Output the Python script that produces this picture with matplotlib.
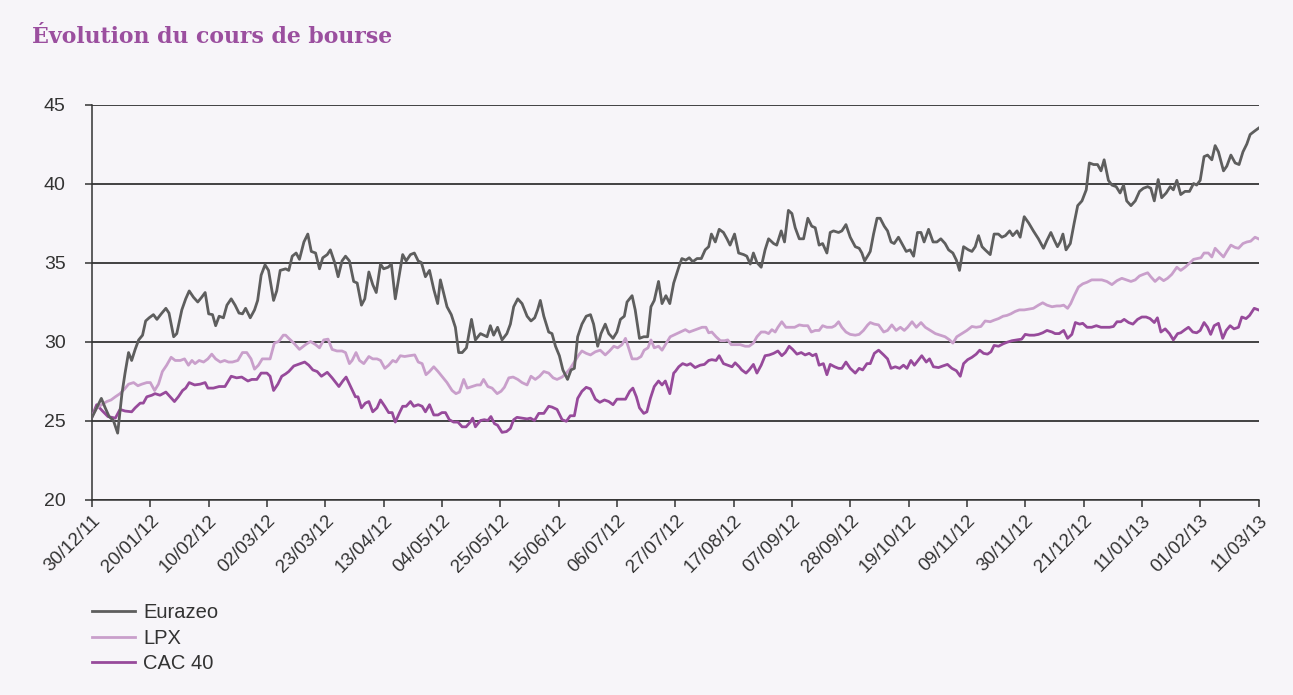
import matplotlib
matplotlib.use("Agg")
import matplotlib.pyplot as plt

# ---------------- data ----------------
tick_labels = ["30/12/11", "20/01/12", "10/02/12", "02/03/12", "23/03/12", "13/04/12",
               "04/05/12", "25/05/12", "15/06/12", "06/07/12", "27/07/12", "17/08/12",
               "07/09/12", "28/09/12", "19/10/12", "09/11/12", "30/11/12", "21/12/12",
               "11/01/13", "01/02/13", "11/03/13"]
tick_step = 15  # trading days between labelled dates

series_names = ["Eurazeo", "LPX", "CAC 40"]

eurazeo_day = [0.0, 1.2, 2.4, 3.4, 4.4, 5.5, 6.6, 7.7, 8.5, 9.4, 10.2, 11.1, 12.0, 13.0, 13.8, 14.7,
               15.8, 16.7, 17.8, 19.0, 19.8, 21.0, 21.8, 23.1, 24.1, 25.0, 26.1, 27.2, 28.2, 29.1,
               30.0, 31.0, 31.8, 32.7, 33.8, 34.7, 35.8, 36.8, 37.8, 38.7, 39.5, 40.7, 41.8, 42.6,
               43.5, 44.5, 45.4, 46.7, 47.5, 48.4,
               49.8, 50.6, 51.5, 52.5, 53.35, 54.5, 55.5, 56.4, 57.5, 58.5, 59.35, 60.5, 61.3, 62.4,
               63.3, 64.3, 65.2, 66.2, 67.3, 68.2, 69.3, 70.15, 71.2, 72.2, 73.1, 74.2, 75.0, 76.15,
               77.0, 78.0, 79.1, 79.9, 80.8, 81.9, 82.9, 83.9, 84.7, 85.75, 86.8, 87.9, 88.9, 89.6,
               90.5, 91.3, 92.4, 93.45, 94.3, 95.2, 96.3, 97.6, 98.6,
               99.9, 101.6, 102.45, 103.3, 104.3, 105.45, 106.7, 107.6, 108.45, 109.5, 110.6, 111.9,
               112.9, 113.85, 114.6, 115.3, 116.2, 117.45, 118.3, 119.2, 120.2, 121.1, 122.3, 123.2,
               124.05, 124.9, 126.0, 127.1, 128.2, 129.0, 130.05, 130.9, 132.0, 132.9, 134.0, 135.0,
               135.9, 136.9, 137.6, 138.9, 139.7, 140.8, 141.9, 142.9, 143.75, 144.6, 145.7, 146.6,
               147.6, 148.6, 149.6,
               150.9, 151.7, 152.7, 153.6, 154.5, 155.6, 156.7, 157.7, 158.6, 159.3, 160.3, 161.3,
               162.4, 163.3, 164.1, 165.25, 166.3, 167.6, 168.4, 169.3, 170.1, 171.0, 172.1, 173.1,
               174.0, 175.3, 176.1, 177.25, 178.1, 179.1, 180.0, 180.85, 181.9, 183.0, 184.1, 185.1,
               186.0, 187.0, 187.9, 189.0, 189.85, 190.7, 192.0, 192.85, 193.9, 195.0, 196.3, 197.3,
               198.0, 198.7, 199.7,
               200.15, 201.0, 201.9, 202.7, 203.75, 204.6, 205.5, 206.3, 207.4, 208.3, 209.4, 210.4,
               211.3, 212.3, 213.2, 214.0, 215.15, 216.3, 217.3, 218.3, 219.4, 220.3, 221.4, 222.3,
               223.1, 224.15, 225.4, 226.3, 227.15, 228.0, 228.9, 229.7, 231.0, 232.0, 233.1, 234.0,
               234.9, 236.0, 236.8, 237.9, 238.7, 239.75, 240.9, 242.1, 243.4, 244.7, 245.6, 246.6,
               247.5, 248.3,
               249.0, 249.7, 250.5, 251.6, 252.6, 253.5, 254.6, 255.7, 256.5, 257.6, 258.6, 259.5,
               260.3, 261.4, 262.3, 263.4, 264.4, 265.3, 266.1, 267.2, 268.3, 269.4, 270.4, 271.5,
               272.3, 273.2, 274.2, 275.1, 276.25, 277.3, 278.1, 279.0, 280.0, 281.1, 282.25, 283.3,
               284.1, 285.0, 286.0, 286.9, 288.0, 288.85, 289.7, 291.0, 291.85, 292.9, 294.0, 295.0,
               296.0, 297.0, 297.85, 298.9, 300.0]
eurazeo_val = [25.2, 25.8, 26.4, 25.8, 25.25, 25.0, 24.2, 26.7, 28.0, 29.3, 28.8, 29.5, 30.1, 30.4, 31.3, 31.5,
               31.7, 31.4, 31.75, 32.1, 31.8, 30.3, 30.5, 32.0, 32.7, 33.2, 32.8, 32.5, 32.8, 33.1,
               31.75, 31.7, 31.0, 31.6, 31.5, 32.3, 32.7, 32.3, 31.8, 31.75, 32.1, 31.5, 32.0, 32.6,
               34.2, 34.85, 34.5, 32.6, 33.2, 34.5,
               34.6, 34.5, 35.4, 35.6, 35.2, 36.3, 36.8, 35.7, 35.6, 34.6, 35.3, 35.5, 35.8, 35.0,
               34.1, 35.1, 35.4, 35.1, 33.8, 33.7, 32.3, 32.7, 34.4, 33.6, 33.1, 34.9, 34.6, 34.7,
               34.9, 32.7, 34.3, 35.5, 35.1, 35.5, 35.6, 35.1, 35.0, 34.1, 34.5, 33.3, 32.4, 33.9,
               33.0, 32.2, 31.7, 30.9, 29.3, 29.3, 29.6, 31.4, 30.1,
               30.5, 30.3, 31.0, 30.4, 30.9, 30.1, 30.5, 31.1, 32.2, 32.7, 32.4, 31.6,
               31.3, 31.5, 32.0, 32.6, 31.6, 30.6, 30.5, 29.7, 29.1, 28.2, 27.6, 28.2,
               28.3, 30.3, 31.1, 31.6, 31.7, 31.1, 29.7, 30.5, 31.1, 30.5, 30.2, 30.6,
               31.4, 31.6, 32.5, 32.9, 32.0, 30.2, 30.3, 30.3, 32.2, 32.6, 33.8, 32.4,
               32.9, 32.4, 33.7,
               34.7, 35.25, 35.15, 35.3, 35.05, 35.25, 35.25, 35.8, 36.0, 36.8, 36.3, 37.1,
               36.9, 36.5, 36.1, 36.8, 35.6, 35.5, 35.4, 34.9, 35.6, 35.0, 34.7, 35.8,
               36.5, 36.2, 36.1, 37.0, 36.3, 38.3, 38.1, 37.2, 36.5, 36.5, 37.8, 37.3,
               37.2, 36.1, 36.2, 35.6, 36.9, 37.0, 36.9, 37.0, 37.4, 36.6, 36.0, 35.9,
               35.6, 35.1, 35.5,
               35.7, 36.8, 37.8, 37.8, 37.3, 37.0, 36.3, 36.2, 36.6, 36.2, 35.7, 35.8,
               35.4, 36.9, 36.9, 36.3, 37.1, 36.3, 36.3, 36.5, 36.2, 35.8, 35.6, 35.15,
               34.5, 36.0, 35.8, 35.7, 36.0, 36.7, 36.0, 35.8, 35.5, 36.8, 36.8, 36.6,
               36.7, 37.0, 36.7, 37.0, 36.6, 37.9, 37.5, 37.0, 36.5, 35.9, 36.4, 36.9,
               36.4, 36.0,
               36.3, 36.8, 35.8, 36.2, 37.5, 38.6, 38.9, 39.6, 41.3, 41.2, 41.2, 40.8,
               41.5, 40.2, 39.9, 39.8, 39.4, 39.9, 38.9, 38.6, 38.9, 39.5, 39.7, 39.8,
               39.7, 38.9, 40.25, 39.1, 39.4, 39.8, 39.6, 40.2, 39.3, 39.5, 39.5, 40.0,
               39.9, 40.2, 41.7, 41.8, 41.5, 42.4, 42.0, 40.8, 41.1, 41.8, 41.3, 41.2,
               42.0, 42.5, 43.1, 43.3, 43.5]

lpx_day = [0.0, 1.2, 2.5, 3.8, 4.9, 6.0, 7.2, 8.4, 9.4, 10.7, 11.8, 12.8, 14.1, 15.0, 16.1, 17.1,
           18.1, 19.2, 20.35, 21.4, 22.7, 23.8, 24.8, 25.7, 26.5, 27.55, 28.7, 29.8, 30.8, 31.8,
           33.0, 34.1, 35.1, 36.1, 37.5, 38.7, 39.8, 40.9, 41.8, 42.8, 43.8, 45.0, 45.8, 46.9,
           48.0, 49.2,
           49.8, 50.6, 51.9, 53.35, 54.9, 56.2, 57.5, 58.5, 59.6, 60.7, 61.75, 63.0, 64.3, 65.2,
           66.2, 66.9, 67.9, 68.8, 69.9, 71.2, 72.2, 73.3, 74.2, 75.3, 76.3, 77.35, 78.2, 79.3,
           80.4, 81.6, 83.0, 83.9, 84.9, 85.9, 86.8, 87.9, 89.0, 90.0, 91.3, 92.6, 93.6, 94.5,
           95.6, 96.5, 97.75, 99.0,
           99.9, 100.7, 101.8, 102.9, 104.2, 105.2, 106.05, 107.2, 108.3, 109.5, 110.6, 111.9,
           112.9, 114.0, 115.1, 116.2, 117.45, 118.6, 119.6, 120.9, 122.0, 123.0, 124.05, 125.2,
           126.0, 127.1, 128.2, 129.45, 130.7, 132.0, 133.1, 134.2, 135.2, 136.3, 137.2, 138.0,
           138.9, 140.2, 141.2, 142.0, 143.0, 143.75, 144.6, 145.7, 146.6, 147.7, 148.7,
           150.0, 151.3, 152.6, 153.6, 154.7, 155.8, 156.9, 157.9, 158.6, 159.4, 160.5, 161.6,
           162.7, 163.5, 164.4, 165.4, 166.7, 168.0, 169.0, 170.1, 171.0, 172.1, 173.1, 174.0,
           174.85, 175.7, 176.4, 177.4, 178.45, 179.6, 180.7, 181.9, 183.0, 184.1, 185.0, 186.0,
           187.0, 187.9, 189.0, 190.3, 191.1, 192.0, 192.85, 193.9, 195.0, 196.3, 197.3, 198.4,
           199.5,
           200.15, 201.2, 202.3, 203.6, 204.6, 205.7, 206.8, 207.9, 208.9, 209.75, 210.9, 212.0,
           213.2, 214.3, 215.6, 216.9, 218.15, 219.4, 220.55, 221.4, 222.4, 223.7, 225.0, 226.3,
           227.4, 228.6, 229.7, 231.0, 232.0, 233.15, 234.3, 235.3, 236.3, 237.4, 238.5, 239.75,
           240.9, 242.1, 243.4, 244.5, 245.6, 246.9, 248.1,
           249.0, 249.9, 250.9, 251.7, 252.6, 253.7, 254.8, 255.9, 257.1, 258.4, 259.7, 261.0,
           262.3, 263.6, 264.85, 266.0, 267.2, 268.3, 269.4, 270.4, 271.5, 272.3, 273.4, 274.5,
           275.6, 276.6, 277.7, 279.0, 280.0, 281.1, 282.25, 283.3, 284.3, 285.2, 286.0, 287.1,
           288.0, 288.85, 290.0, 291.0, 291.85, 292.9, 294.0, 294.85, 296.0, 297.0, 298.0, 299.1,
           300.0]
lpx_val = [25.25, 25.8, 26.0, 26.2, 26.3, 26.5, 26.7, 27.0, 27.3, 27.4, 27.2, 27.3, 27.4, 27.4, 26.9, 27.3,
           28.1, 28.5, 29.0, 28.8, 28.8, 28.9, 28.5, 28.8, 28.6, 28.8, 28.7, 28.9, 29.2, 28.9,
           28.7, 28.8, 28.7, 28.7, 28.8, 29.3, 29.3, 28.9, 28.25, 28.5, 28.9, 28.9, 28.9, 29.9,
           30.0, 30.4,
           30.4, 30.2, 29.9, 29.5, 29.8, 30.0, 29.8, 29.6, 30.1, 30.15, 29.5, 29.4, 29.4, 29.3,
           28.6, 28.8, 29.3, 28.8, 28.6, 29.05, 28.9, 28.9, 28.8, 28.3, 28.5, 28.8, 28.7, 29.1,
           29.05, 29.1, 29.15, 28.7, 28.6, 27.9, 28.1, 28.4, 28.1, 27.8, 27.4, 26.9, 26.7, 26.8,
           27.6, 27.05, 27.15, 27.25,
           27.25, 27.6, 27.15, 27.05, 26.7, 26.85, 27.1, 27.7, 27.75, 27.6, 27.4, 27.25,
           27.8, 27.6, 27.8, 28.1, 28.0, 27.7, 27.6, 27.75, 28.0, 28.3, 28.7, 29.15,
           29.4, 29.25, 29.15, 29.35, 29.45, 29.15, 29.4, 29.7, 29.6, 29.8, 30.2, 29.6,
           28.9, 28.9, 29.05, 29.45, 29.6, 30.1, 29.6, 29.7, 29.45, 29.9, 30.3,
           30.45, 30.6, 30.75, 30.6, 30.7, 30.8, 30.9, 30.9, 30.55, 30.6, 30.3, 30.05,
           30.05, 30.1, 29.8, 29.8, 29.8, 29.7, 29.7, 29.9, 30.3, 30.6, 30.6, 30.5,
           30.75, 30.6, 30.9, 31.25, 30.9, 30.9, 30.9, 31.05, 31.0, 31.0, 30.6, 30.7,
           30.7, 31.0, 30.9, 30.9, 31.0, 31.25, 30.9, 30.6, 30.45, 30.4, 30.45, 30.7,
           31.05,
           31.2, 31.1, 31.05, 30.6, 30.7, 31.05, 30.7, 30.9, 30.7, 30.9, 31.25, 30.9,
           31.2, 30.9, 30.7, 30.5, 30.4, 30.3, 30.1, 29.9, 30.3, 30.5, 30.7, 30.95,
           30.9, 30.95, 31.3, 31.25, 31.35, 31.45, 31.6, 31.65, 31.75, 31.9, 32.0, 32.0,
           32.05, 32.1, 32.3, 32.45, 32.3, 32.2, 32.25,
           32.25, 32.3, 32.1, 32.4, 32.9, 33.45, 33.65, 33.75, 33.9, 33.9, 33.9, 33.8,
           33.6, 33.85, 34.0, 33.9, 33.8, 33.9, 34.15, 34.25, 34.35, 34.1, 33.8, 34.05,
           33.85, 34.0, 34.25, 34.7, 34.5, 34.7, 34.95, 35.2, 35.25, 35.3, 35.6, 35.6,
           35.35, 35.9, 35.6, 35.35, 35.7, 36.1, 35.95, 35.9, 36.2, 36.3, 36.35, 36.6,
           36.5]

cac_day = [0.0, 1.2, 2.7, 4.1, 6.0, 7.2, 8.5, 10.2, 11.1, 12.4, 13.2, 14.1, 15.4, 16.2, 17.5, 19.0,
           21.2, 22.2, 23.3, 24.1, 25.0, 26.4, 27.8, 29.1, 29.8, 31.2, 32.7, 34.2, 35.8, 37.2,
           38.5, 40.1, 41.1, 42.4, 43.5, 45.0, 45.8, 46.7, 47.8, 48.8,
           49.8, 50.6, 51.9, 53.6, 54.7, 55.75, 56.8, 57.9, 59.0, 60.5, 61.75, 63.5, 64.5, 65.35,
           66.5, 67.75, 68.4, 69.3, 70.3, 71.2, 72.2, 73.3, 74.2, 75.3, 76.3, 77.2, 78.0, 79.1,
           79.9, 80.8, 81.9, 82.75, 83.9, 84.9, 85.75, 86.8, 87.9, 89.0, 90.0, 90.9, 91.9, 93.0,
           94.1, 95.2, 96.2, 97.3, 97.9, 98.6,
           99.9, 100.9, 101.8, 102.6, 103.5, 104.3, 105.45, 106.6, 107.6, 108.45, 109.3, 110.6,
           111.9, 112.75, 113.8, 114.9, 116.2, 117.45, 118.3, 119.6, 120.9, 122.0, 123.0, 124.05,
           124.9, 126.0, 127.1, 128.2, 129.45, 130.6, 131.8, 132.9, 134.0, 135.0, 136.0, 137.2,
           138.3, 139.1, 140.0, 140.8, 141.9, 142.7, 143.6, 144.6, 145.7, 146.6, 147.45, 148.6,
           149.6,
           150.0, 150.9, 151.9, 153.0, 153.9, 155.1, 156.4, 157.5, 158.6, 159.4, 160.5, 161.3,
           162.4, 163.5, 164.6, 165.4, 166.45, 167.1, 168.2, 169.0, 170.1, 171.0, 172.1, 173.1,
           174.2, 175.3, 176.4, 177.4, 178.3, 179.3, 180.2, 181.3, 182.4, 183.4, 184.45, 185.3,
           186.2, 187.0, 188.1, 189.0, 189.85, 191.0, 192.0, 192.85, 193.9, 195.0, 196.3, 197.3,
           198.2, 199.3,
           200.15, 201.2, 202.3, 203.6, 204.6, 205.5, 206.6, 207.7, 208.7, 209.6, 210.6, 211.5,
           212.6, 213.4, 214.55, 215.4, 216.4, 217.7, 218.8, 220.0, 221.15, 222.3, 223.3, 224.15,
           225.2, 226.3, 227.4, 228.3, 229.3, 230.3, 231.2, 232.0, 233.15, 234.3, 235.3, 236.6,
           237.9, 239.1, 240.0, 241.1, 242.3, 243.4, 244.5, 245.6, 246.9, 247.7, 248.8,
           249.0, 249.9, 250.9, 252.0, 252.9, 254.0, 254.8, 255.9, 257.1, 258.3, 259.5, 260.6,
           261.7, 262.7, 263.6, 264.6, 265.45, 266.6, 267.7, 268.9, 270.0, 271.1, 272.1, 273.2,
           274.0, 274.9, 276.0, 277.1, 278.1, 279.2, 280.0, 281.1, 282.0, 283.1, 284.1, 285.0,
           286.0, 286.9, 287.7, 288.6, 289.7, 290.8, 291.7, 292.7, 293.7, 294.85, 295.7, 296.8,
           297.7, 298.9, 300.0]
cac_val = [25.25, 26.0, 25.6, 25.25, 25.15, 25.7, 25.6, 25.55, 25.8, 26.1, 26.1, 26.5, 26.6, 26.7, 26.6, 26.8,
           26.2, 26.5, 26.9, 27.05, 27.4, 27.25, 27.3, 27.4, 27.05, 27.05, 27.15, 27.15, 27.8, 27.7,
           27.75, 27.5, 27.6, 27.6, 28.0, 28.0, 27.8, 26.9, 27.3, 27.8,
           27.95, 28.1, 28.45, 28.6, 28.7, 28.5, 28.2, 28.1, 27.8, 28.05, 27.7, 27.15, 27.5, 27.75,
           27.15, 26.5, 26.5, 25.8, 26.1, 26.2, 25.55, 25.8, 26.3, 25.9, 25.5, 25.5, 24.9, 25.5,
           25.9, 25.9, 26.2, 25.9, 26.0, 25.9, 25.55, 26.0, 25.35, 25.35, 25.5, 25.5, 25.05, 24.9,
           24.9, 24.6, 24.6, 24.9, 25.15, 24.6,
           25.0, 25.05, 25.0, 25.25, 24.8, 24.7, 24.25, 24.3, 24.5, 25.05, 25.2, 25.15,
           25.1, 25.15, 25.0, 25.45, 25.45, 25.9, 25.85, 25.7, 25.05, 24.95, 25.3, 25.3,
           26.4, 26.85, 27.1, 27.0, 26.35, 26.15, 26.3, 26.2, 26.0, 26.35, 26.35, 26.35,
           26.85, 27.05, 26.5, 25.8, 25.45, 25.55, 26.4, 27.15, 27.5, 27.25, 27.5, 26.7,
           28.0,
           28.1, 28.4, 28.6, 28.5, 28.6, 28.35, 28.5, 28.55, 28.8, 28.85, 28.8, 29.1,
           28.6, 28.5, 28.4, 28.65, 28.4, 28.2, 28.0, 28.2, 28.55, 28.0, 28.5, 29.1,
           29.15, 29.25, 29.4, 29.1, 29.3, 29.7, 29.5, 29.2, 29.3, 29.15, 29.25, 29.1,
           29.2, 28.5, 28.6, 27.9, 28.55, 28.4, 28.3, 28.3, 28.7, 28.3, 28.0, 28.3,
           28.2, 28.6,
           28.6, 29.25, 29.45, 29.15, 28.9, 28.3, 28.4, 28.3, 28.5, 28.3, 28.8, 28.5,
           28.85, 29.1, 28.7, 28.9, 28.4, 28.35, 28.45, 28.55, 28.3, 28.15, 27.8, 28.6,
           28.85, 29.0, 29.2, 29.45, 29.25, 29.2, 29.35, 29.75, 29.7, 29.85, 29.95, 30.05,
           30.1, 30.15, 30.45, 30.4, 30.4, 30.45, 30.55, 30.7, 30.6, 30.5, 30.5,
           30.55, 30.7, 30.2, 30.45, 31.2, 31.1, 31.15, 30.9, 30.9, 31.0, 30.9, 30.9,
           30.9, 30.95, 31.25, 31.25, 31.4, 31.2, 31.1, 31.4, 31.55, 31.55, 31.45, 31.2,
           31.5, 30.6, 30.8, 30.5, 30.1, 30.5, 30.55, 30.75, 30.9, 30.6, 30.55, 30.7,
           31.2, 30.9, 30.45, 31.0, 31.15, 30.2, 30.7, 31.0, 30.8, 30.9, 31.55, 31.45,
           31.65, 32.1, 32.0]

y_ticks = [20, 25, 30, 35, 40, 45]
title_text = "Évolution du cours de bourse"

# ---------------- style ----------------
bg = "#f7f5f9"
colors = ["#5e5e5e", "#c99fcb", "#974a9b"]
text_color = "#333333"

plt.rcParams["font.family"] = ["Liberation Sans", "DejaVu Sans"]

fig = plt.figure(figsize=(12.93, 6.95), dpi=100, facecolor=bg)
ax = fig.add_axes([92 / 1293, 1 - 499.5 / 695, (1258.5 - 92) / 1293, (499.5 - 104.5) / 695])
ax.set_facecolor(bg)

lines = {}
lines["CAC 40"], = ax.plot(cac_day, cac_val, color=colors[2], lw=2.0, solid_joinstyle="round",
                           label="CAC 40", zorder=3)
lines["LPX"], = ax.plot(lpx_day, lpx_val, color=colors[1], lw=2.0, solid_joinstyle="round",
                        label="LPX", zorder=3)
lines["Eurazeo"], = ax.plot(eurazeo_day, eurazeo_val, color=colors[0], lw=2.0,
                            solid_joinstyle="round", label="Eurazeo", zorder=4)

n_ticks = len(tick_labels)
ax.set_xlim(0, (n_ticks - 1) * tick_step)
ax.set_ylim(20, 45)
ax.set_xticks([i * tick_step for i in range(n_ticks)])
ax.set_xticklabels(tick_labels, rotation=45, ha="right", va="top", rotation_mode="anchor",
                   fontsize=13.5, color=text_color)
ax.set_yticks(y_ticks)
ax.set_yticklabels([str(t) for t in y_ticks], fontsize=14, color=text_color)
ax.yaxis.grid(True, color="#111111", lw=1.1)
ax.set_axisbelow(True)
for s in ["top", "right"]:
    ax.spines[s].set_visible(False)
for s in ["left", "bottom"]:
    ax.spines[s].set_color("#333333")
    ax.spines[s].set_linewidth(1.1)
ax.tick_params(axis="both", direction="out", length=5, width=1.1, color="#333333")
ax.tick_params(axis="y", pad=14)
ax.tick_params(axis="x", pad=4)

fig.text(32 / 1293, 1 - 43 / 695, title_text, fontsize=15.8, fontweight="bold",
         color="#9b4f9f", family=["DejaVu Serif"], va="baseline")

handles = [lines[n] for n in series_names]
fig.legend(handles, series_names, loc="upper left", bbox_to_anchor=(92 / 1293, 1 - 603 / 695),
           frameon=False, fontsize=14.5, handlelength=2.15, handletextpad=0.4,
           labelspacing=0.33, borderpad=0, borderaxespad=0, labelcolor=text_color)

fig.savefig("out.png", dpi=100, facecolor=bg)
